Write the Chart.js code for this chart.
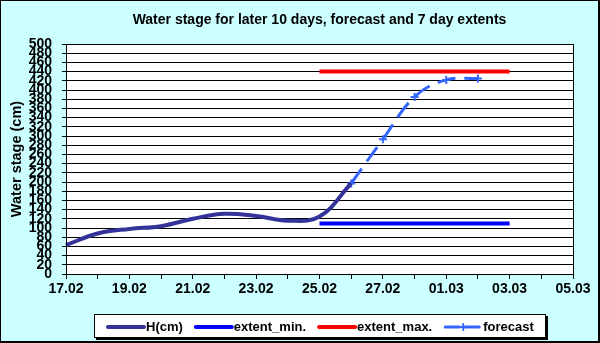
<!DOCTYPE html>
<html>
<head>
<meta charset="utf-8">
<script src="https://cdn.jsdelivr.net/npm/chart.js@4.4.1/dist/chart.umd.min.js"></script>
<style>
  html, body { margin: 0; padding: 0; background: #ccffff; }
  canvas { display: block; }
</style>
</head>
<body>
<canvas id="chart" width="600" height="343"></canvas>
<script>
const labels = ['17.02', '18.02', '19.02', '20.02', '21.02', '22.02', '23.02', '24.02', '25.02',
  '26.02', '27.02', '28.02', '01.03', '02.03', '03.03', '04.03', '05.03'];
const hValues = [63, 88, 98, 104, 120, 131, 126, 116, 125, 197, null, null, null, null, null, null, null];
const extentMin = [null, null, null, null, null, null, null, null, 110, 110, 110, 110, 110, 110, 110, null, null];
const extentMax = [null, null, null, null, null, null, null, null, 440, 440, 440, 440, 440, 440, 440, null, null];
const forecast = [null, null, null, null, null, null, null, null, null, 197, 293, 385, 422, 425, null, null, null];
const chartTitle = 'Water stage for later 10 days, forecast and 7 day extents';

Chart.defaults.font.family = 'Arial, "Liberation Sans", sans-serif';
Chart.defaults.color = '#000';

// canvas + plot backgrounds, frame, title, boxed legend
const decor = {
  id: 'decor',
  beforeDraw(chart) {
    const { ctx, chartArea: a } = chart;
    ctx.save();
    ctx.fillStyle = '#ccffff';
    ctx.fillRect(0, 0, chart.width, chart.height);
    ctx.fillStyle = '#fff';
    ctx.fillRect(a.left, a.top, a.right - a.left, a.bottom - a.top);
    ctx.restore();
  },
  afterDraw(chart) {
    const { ctx, chartArea: a } = chart;
    const W = chart.width, H = chart.height;
    ctx.save();
    ctx.strokeStyle = '#000';
    ctx.lineWidth = 1;
    ctx.strokeRect(Math.round(a.left) + 0.5, Math.round(a.top) + 0.5,
      Math.round(a.right - a.left), Math.round(a.bottom - a.top));
    // outer frame, heavier on right/bottom
    ctx.fillStyle = '#000';
    ctx.fillRect(0, 0, W, 1);
    ctx.fillRect(0, 0, 1, H);
    ctx.fillRect(W - 2, 0, 2, H);
    ctx.fillRect(0, H - 2, W, 2);

    ctx.font = 'bold 14px Arial, "Liberation Sans", sans-serif';
    ctx.textAlign = 'center';
    ctx.textBaseline = 'middle';
    ctx.fillText(chartTitle, (a.left + a.right) / 2, 20);

    // legend box
    ctx.fillStyle = '#000';
    ctx.fillRect(96, 316, 452, 24);
    ctx.fillStyle = '#fff';
    ctx.fillRect(94, 314, 452, 24);
    ctx.lineWidth = 1;
    ctx.strokeRect(94.5, 314.5, 451, 23);

    ctx.font = 'bold 13px Arial, "Liberation Sans", sans-serif';
    ctx.textAlign = 'left';
    let x = 108;
    const y = 327;
    chart.data.datasets.forEach(ds => {
      ctx.strokeStyle = ds.borderColor;
      ctx.lineWidth = ds.borderWidth;
      ctx.lineCap = 'round';
      ctx.setLineDash(ds.borderDash ? [14, 6] : []);
      ctx.beginPath();
      ctx.moveTo(x, y);
      ctx.lineTo(x + 36, y);
      ctx.stroke();
      ctx.setLineDash([]);
      if (ds.pointRadius) {
        ctx.lineWidth = 2;
        ctx.beginPath();
        ctx.moveTo(x + 18 - 3, y); ctx.lineTo(x + 18 + 3, y);
        ctx.moveTo(x + 18, y - 3); ctx.lineTo(x + 18, y + 3);
        ctx.stroke();
      }
      ctx.fillStyle = '#000';
      ctx.fillText(ds.label, x + 38, y);
      x += 38 + ctx.measureText(ds.label).width + 13;
    });
    ctx.restore();
  }
};

new Chart(document.getElementById('chart'), {
  type: 'line',
  data: {
    labels,
    datasets: [
      { label: 'H(cm)', data: hValues, borderColor: '#333399', borderWidth: 4, tension: 0.4, pointRadius: 0 },
      { label: 'extent_min.', data: extentMin, borderColor: '#0000ff', borderWidth: 4, tension: 0, pointRadius: 0 },
      { label: 'extent_max.', data: extentMax, borderColor: '#ff0000', borderWidth: 4, tension: 0, pointRadius: 0 },
      {
        label: 'forecast', data: forecast, borderColor: '#3366ff', backgroundColor: '#3366ff', borderWidth: 3,
        borderDash: [18, 9], tension: 0.4, pointStyle: 'cross', pointRadius: 4, pointBorderWidth: 2
      },
    ],
  },
  options: {
    responsive: false,
    animation: false,
    layout: { padding: { left: 0, top: 44, right: 27, bottom: 39 } },
    plugins: { legend: { display: false }, title: { display: false }, tooltip: { enabled: false } },
    scales: {
      x: {
        type: 'category',
        offset: false,
        grid: { drawOnChartArea: false, drawTicks: true, tickLength: 5, color: '#000' },
        border: { color: '#000', width: 1 },
        ticks: {
          autoSkip: false, maxRotation: 0, padding: 2,
          font: { size: 14, weight: 'bold' },
          callback: (v, i) => (i % 2 === 0 ? labels[i] : ''),
        },
        afterFit: s => { s.height = 30; },
      },
      y: {
        min: 0,
        max: 500,
        grid: { color: '#000', tickLength: 4, lineWidth: 1 },
        border: { color: '#000', width: 1 },
        ticks: { stepSize: 20, autoSkip: false, padding: 10, font: { size: 14, weight: 'bold' } },
        title: {
          display: true, text: 'Water stage (cm)',
          font: { size: 14.5, weight: 'bold' }, padding: { top: 8, bottom: 0 },
        },
        afterFit: s => { s.width = 66; },
      },
    },
  },
  plugins: [decor],
});
</script>
</body>
</html>
